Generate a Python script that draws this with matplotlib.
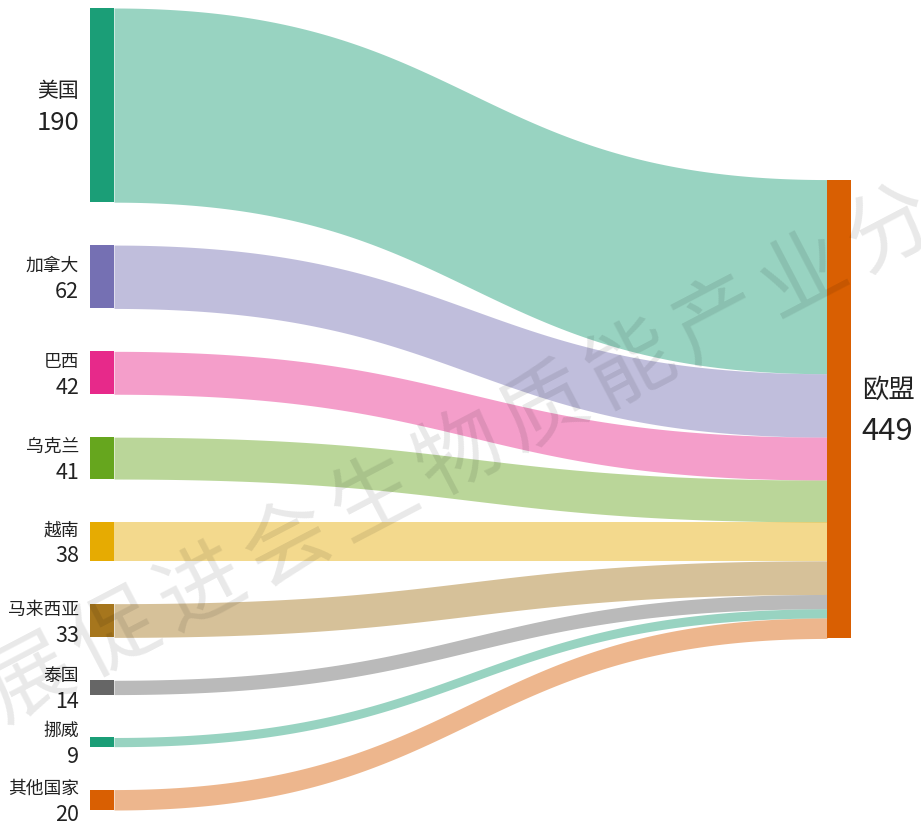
import matplotlib
matplotlib.use("Agg")
import matplotlib.pyplot as plt
import numpy as np

plt.rcParams['font.family'] = ['Noto Sans CJK SC', 'DejaVu Sans']

# Sources flowing into the EU
sources = ["美国", "加拿大", "巴西", "乌克兰", "越南", "马来西亚", "泰国", "挪威", "其他国家"]
values = [190, 62, 42, 41, 38, 33, 14, 9, 20]
target = "欧盟"

# Dark2 palette, cycled over the nodes
palette = ["#1b9e77", "#7570b3", "#e7298a", "#66a61e", "#e6ab02",
           "#a6761d", "#666666", "#1b9e77", "#d95f02"]
target_color = "#d95f02"

W, H = 921, 829
fig = plt.figure(figsize=(W / 100, H / 100), dpi=100)
ax = fig.add_axes([0, 0, 1, 1])
ax.set_xlim(0, W)
ax.set_ylim(H, 0)
ax.axis("off")

# layout (pixel space)
top, bottom = 9, 811
x_left, x_right, node_w = 90, 827, 24
total = sum(values)
ky = 1.022
gap = (bottom - top - total * ky) / (len(values) - 1)

src_y0 = []
y = top
for v in values:
    src_y0.append(y)
    y += v * ky + gap

tgt_h = total * ky
tgt_y0 = (top + bottom) / 2 - tgt_h / 2


def band(x0, x1, ya, yb, h):
    t = np.linspace(0, 1, 200)
    xm = (x0 + x1) / 2
    xs = (1 - t) ** 3 * x0 + 3 * (1 - t) ** 2 * t * xm + 3 * (1 - t) * t ** 2 * xm + t ** 3 * x1
    ys = (1 - t) ** 3 * ya + 3 * (1 - t) ** 2 * t * ya + 3 * (1 - t) * t ** 2 * yb + t ** 3 * yb
    return xs, ys, ys + h


# links
ty = tgt_y0
for name, v, c, sy in zip(sources, values, palette, src_y0):
    h = v * ky
    xs, y_top, y_bot = band(x_left + node_w, x_right, sy, ty, h)
    ax.fill_between(xs, y_top, y_bot, color=c, alpha=0.45, linewidth=0)
    ty += h

# source nodes and labels
for i, (name, v, c, sy) in enumerate(zip(sources, values, palette, src_y0)):
    h = v * ky
    ax.add_patch(plt.Rectangle((x_left, sy), node_w, h, color=c, linewidth=0))
    cy = sy + h / 2
    if i == 0:
        ax.text(79, cy - 15, name, ha="right", va="center", fontsize=15, color="#222222")
        ax.text(79, cy + 17, str(v), ha="right", va="center", fontsize=18.5, color="#222222")
    else:
        ax.text(79, cy - 12, name, ha="right", va="center", fontsize=12.8, color="#222222")
        ax.text(79, cy + 14, str(v), ha="right", va="center", fontsize=15.5, color="#222222")

# target node and label
ax.add_patch(plt.Rectangle((x_right, tgt_y0), node_w, tgt_h, color=target_color, linewidth=0))
tcy = tgt_y0 + tgt_h / 2
ax.text(862, tcy - 20, target, ha="left", va="center", fontsize=19, color="#222222")
ax.text(861, tcy + 21, str(total), ha="left", va="center", fontsize=22.3, color="#222222")

# watermark
mark = "中国产业发展促进会生物质能产业分会"
angle = np.deg2rad(27.6)
step = 97
x5, y5 = 30, 680  # position of the 6th character
for k, ch in enumerate(mark):
    d = (k - 5) * step
    cx, cy = x5 + d * np.cos(angle), y5 - d * np.sin(angle)
    if cx < -60 or cx > W + 60:
        continue
    ax.text(cx, cy, ch, rotation=27.6, ha="center", va="center", fontsize=62,
            color="black", alpha=0.09)

fig.savefig("out.png", dpi=100)
